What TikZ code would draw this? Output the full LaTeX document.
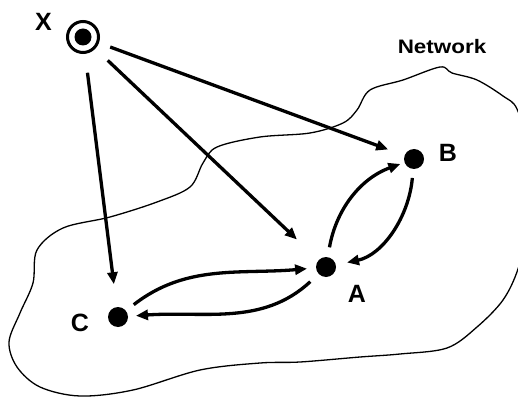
\documentclass[tikz,border=0pt]{standalone}
\usepackage{fontspec}
\setmainfont{Liberation Sans}
\usetikzlibrary{arrows.meta}
\tikzset{
  dot/.style={circle,fill=black,minimum size=20pt,inner sep=0pt,outer sep=0pt},
  lbl/.style={inner sep=0pt,font=\bfseries\fontsize{25}{25}\selectfont},
  link/.style={line width=3.3pt,-{Triangle[length=12pt,width=10pt]}},
  blob/.style={line width=1.3pt}
}
\begin{document}
\begin{tikzpicture}[x=1pt,y=1pt]
\useasboundingbox (0,0) rectangle (518,399);
% network outline
\begin{scope}
\clip (0,0) rectangle (518,399);
\draw[blob] plot[smooth cycle,tension=0.55] coordinates {
 (440,332) (452,326) (477,319) (503,303) (517,290) (527,250) (527,170) (518,130)
 (503,99) (477,72) (447,51) (400,45) (360,42) (300,37) (260,36) (200,29)
 (133,9) (80,3) (40,12) (17,32) (9,57) (20,86) (33,116) (37,149) (63,171)
 (110,182) (157,197) (190,212) (203,236) (217,252) (260,262) (310,266)
 (343,276) (357,289) (370,309) (403,319)};
\end{scope}
% nodes
\node[circle,draw,line width=3pt,minimum size=31pt,inner sep=0pt] (X) at (83,362) {};
\fill (X.center) circle (8.5);
\node[dot] (A) at (326,132) {};
\node[dot] (B) at (414,240) {};
\node[dot] (C) at (118,82) {};
% labels
\node[lbl] (lx) at (43.5,377) {X};
\node[lbl] (lb) at (448,246) {B};
\node[lbl] (la) at (357,105) {A};
\node[lbl] (lc) at (80,76) {C};
\node[inner sep=0pt,font=\bfseries\fontsize{19.5}{19.5}\selectfont] (net) at (442,352) {\scalebox{1.15}[1]{Network}};
% arrows from X
\draw[link,shorten <=19pt,shorten >=23pt] (X) -- (C);
\draw[link,shorten <=17pt,shorten >=30pt] (X) -- (A);
\draw[link,shorten <=12pt,shorten >=17.5pt] (X) -- (B);
% arrows between A, B, C
\draw[link,shorten <=10pt,shorten >=4.5pt] (A) to[out=80,in=200] (B);
\draw[link,shorten <=9pt,shorten >=11.5pt] (B) to[out=265,in=12] (A);
\draw[link,shorten <=10pt,shorten >=9pt] (C) to[out=38,in=185] (A);
\draw[link,shorten <=11.5pt,shorten >=8pt] (A) to[out=223,in=4] (C);
\end{tikzpicture}
\end{document}
